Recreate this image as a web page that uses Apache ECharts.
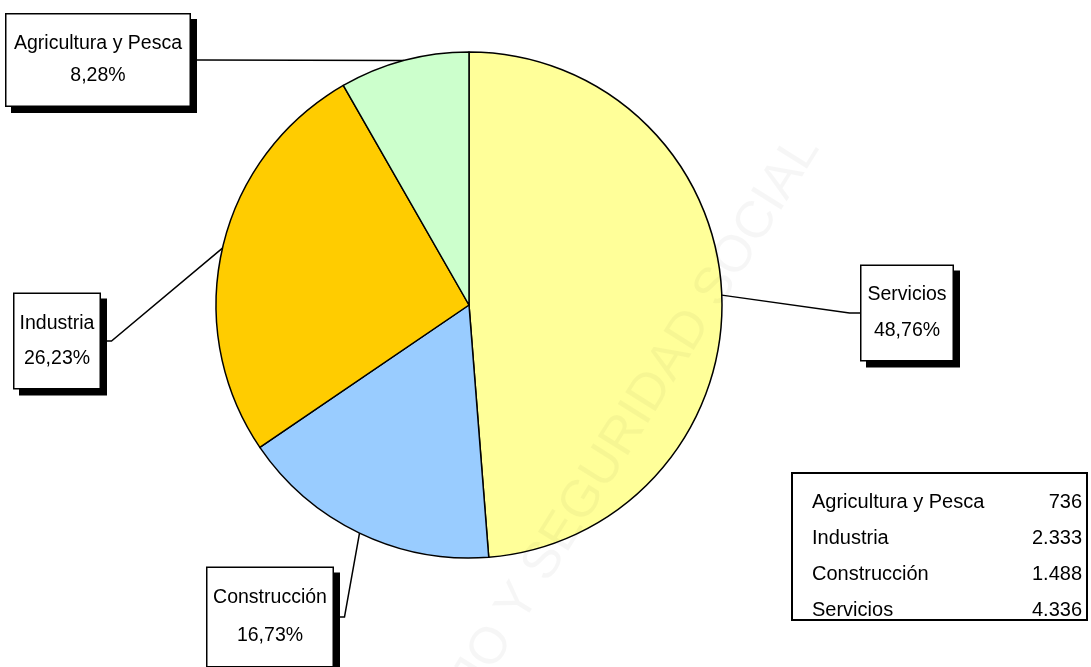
<!DOCTYPE html>
<html>
<head>
<meta charset="utf-8">
<script src="https://cdn.jsdelivr.net/npm/echarts@6/dist/echarts.min.js"></script>
<style>
  html, body { margin: 0; padding: 0; background: #fff; }
  #chart { width: 1091px; height: 667px; }
</style>
</head>
<body>
<div id="chart"></div>
<script>
  // sectores en el orden de la tabla
  var sectores = ['Agricultura y Pesca', 'Industria', 'Construcción', 'Servicios']
  var ocupados = [736, 2333, 1488, 4336]
  var colores = ['#CCFFCC', '#FFCC00', '#99CCFF', '#FFFF99']
  // orden de las porciones, sentido horario desde las 12
  var ordenTorta = [3, 2, 1, 0]

  // cajas de las etiquetas (centro, tamaño, interlineado)
  var cajas = [
    {x: 98, y: 60, w: 183, h: 91, lh: 32},
    {x: 57, y: 341, w: 85, h: 94, lh: 35},
    {x: 270, y: 617, w: 125, h: 98, lh: 38},
    {x: 907, y: 313, w: 91, h: 94, lh: 36}
  ]
  var centro = [469, 305]
  var fuente = "'Liberation Sans', Arial, sans-serif"

  function miles (v) {
    return String(v).replace(/\B(?=(\d{3})+(?!\d))/g, '.')
  }

  var datosTorta = ordenTorta.map(function (i) {
    var c = cajas[i]
    return {
      name: sectores[i],
      value: ocupados[i],
      itemStyle: { color: colores[i] },
      label: { width: c.w, lineHeight: c.lh, padding: [(c.h - 2 * c.lh) / 2, 0] }
    }
  })

  var chart = echarts.init(document.getElementById('chart'))
  var option = {
    animation: false,
    backgroundColor: '#fff',
    graphic: [{
      type: 'text',
      silent: true,
      z: 100,
      x: 808,
      y: 140,
      rotation: 58 * Math.PI / 180,
      style: {
        text: 'MINISTERIO DE TRABAJO Y SEGURIDAD SOCIAL',
        fill: 'rgba(0,0,0,0.035)',
        font: '52px "Liberation Sans"',
        align: 'right',
        verticalAlign: 'middle'
      }
    }],
    legend: {
      data: sectores,
      orient: 'vertical',
      left: 792,
      top: 473,
      icon: 'none',
      itemWidth: 0,
      itemHeight: 26,
      itemGap: 13,
      padding: [16, 5, 0, 15],
      borderColor: '#000',
      borderWidth: 2,
      selectedMode: false,
      formatter: function (name) {
        var i = sectores.indexOf(name)
        return '{n|' + name + '}{v|' + miles(ocupados[i]) + '}'
      },
      textStyle: {
        color: '#000',
        fontFamily: fuente,
        fontSize: 20,
        rich: {
          n: { width: 190, fontFamily: fuente, fontSize: 20, lineHeight: 26, color: '#000' },
          v: { width: 80, align: 'right', fontFamily: fuente, fontSize: 20, lineHeight: 26, color: '#000' }
        }
      }
    },
    series: [{
      type: 'pie',
      center: centro,
      radius: 253,
      startAngle: 90,
      clockwise: true,
      percentPrecision: 2,
      emphasis: { disabled: true },
      itemStyle: { borderColor: '#000', borderWidth: 1.5 },
      label: {
        show: true,
        position: 'outside',
        color: '#000',
        fontFamily: fuente,
        fontSize: 19.5,
        align: 'center',
        overflow: 'none',
        backgroundColor: '#fff',
        borderColor: '#000',
        borderWidth: 1.5,
        shadowColor: '#000',
        shadowBlur: 0,
        shadowOffsetX: 6,
        shadowOffsetY: 6,
        formatter: function (p) {
          return p.name + '\n' + p.percent.toFixed(2).replace('.', ',') + '%'
        }
      },
      labelLine: {
        show: true,
        length: 20,
        length2: 20,
        lineStyle: { color: '#000', width: 1.5 }
      },
      labelLayout: function (p) {
        var c = cajas[ordenTorta[p.dataIndex]]
        var p0 = p.labelLinePoints[0]
        var izq = c.x < centro[0]
        var bordeX = izq ? c.x + c.w / 2 : c.x - c.w / 2
        var codoX = izq ? bordeX + 12 : bordeX - 12
        return {
          x: c.x,
          y: c.y,
          align: 'center',
          verticalAlign: 'middle',
          labelLinePoints: [p0, [codoX, c.y], [bordeX, c.y]]
        }
      },
      data: datosTorta
    }]
  }
  chart.setOption(option)
</script>
</body>
</html>
